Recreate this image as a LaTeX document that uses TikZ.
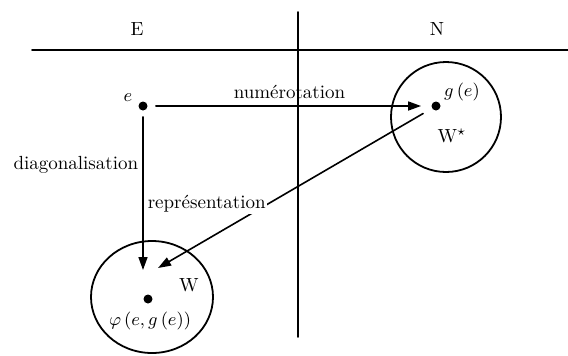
\documentclass[tikz,border=0pt]{standalone}
\usetikzlibrary{arrows.meta,positioning,shapes.geometric}
\begin{document}
\begin{tikzpicture}[x=0.5pt,y=-0.5pt,line join=round,line cap=round,font=\fontsize{9.5}{11}\selectfont]
\tikzstyle{dot} = [circle,fill,inner sep=0pt,minimum size=4.5pt]
\tikzstyle{rule} = [draw,line width=0.8pt]
\tikzstyle{map} = [draw,line width=0.8pt,-{Triangle[length=6.5pt,width=4.5pt]}]
\tikzstyle{set} = [draw,line width=0.9pt,ellipse,inner sep=0pt]
\useasboundingbox (0,0) rectangle (568,355);

\coordinate (L) at (32,50);
\coordinate (R) at (568,50);
\coordinate (T) at (298,12);
\coordinate (B) at (298,337);
\draw[rule] (L) -- (R);
\draw[rule] (T) -- (B);

\node (E) at (137,29) {E};
\node (N) at (437,29) {N};

% sets
\node[set,minimum width=55pt,minimum height=55pt] (Wstarset) at (446,117) {};
\node[set,minimum width=61pt,minimum height=56pt] (Wset) at (152,297) {};

% points
\node[dot] (e) at (143,106) {};
\node[dot] (ge) at (436,106) {};
\node[dot] (phi) at (148,299) {};

\node (elabel) at (128,98) {$e$};
\node (gelabel) at (462,92) {$g\,(e)$};
\node (Wstar) at (452,136) {W$^\star$};
\node (W) at (189,285) {W};
\node (philabel) at (150,321) {$\varphi\,(e, g\,(e))$};

\coordinate (dtip) at (143,270);
\coordinate (rtip) at (158,268);

\draw[map,shorten <=4pt,shorten >=5pt] (e) -- (ge) node[midway,above] {numérotation};
\draw[map,shorten <=3pt] (e) -- (dtip) node[pos=0.34,left,inner sep=2pt] {diagonalisation};
\draw[map,shorten <=5pt] (ge) -- (rtip)
  node[pos=0.6,anchor=east,fill=white,inner sep=0.5pt] {représentation};

\end{tikzpicture}
\end{document}
